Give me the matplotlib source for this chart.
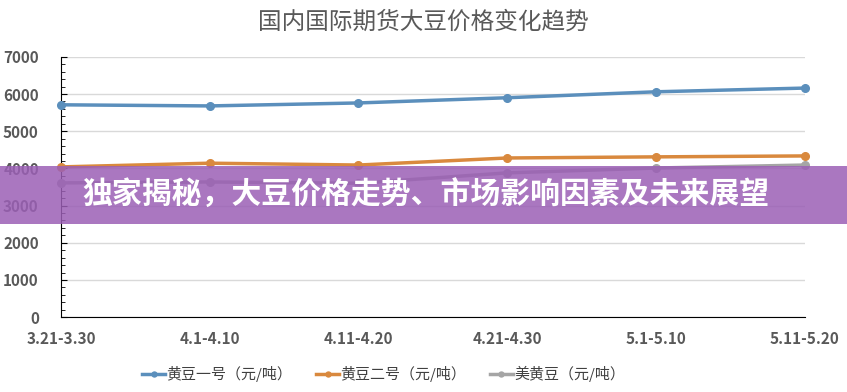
import matplotlib
matplotlib.use("Agg")
import matplotlib.pyplot as plt
from matplotlib.patches import Rectangle
from matplotlib.ticker import MultipleLocator

plt.rcParams['font.family'] = ['Noto Sans CJK SC', 'DejaVu Sans']

periods = ['3.21-3.30', '4.1-4.10', '4.11-4.20', '4.21-4.30', '5.1-5.10', '5.11-5.20']
soy_1 = [5710, 5680, 5760, 5900, 6060, 6160]
soy_2 = [4040, 4140, 4090, 4280, 4310, 4335]
us_soy = [3610, 3635, 3600, 3880, 4010, 4090]
series_names = ['黄豆一号（元/吨）', '黄豆二号（元/吨）', '美黄豆（元/吨）']
colors = ['#5b8fbc', '#d9893e', '#a5a5a5']

fig = plt.figure(figsize=(8.47, 3.92), dpi=100)
ax = fig.add_axes([0.072, 0.191, 0.878, 0.664])

x = range(len(periods))
for vals, name, c in zip([soy_1, soy_2, us_soy], series_names, colors):
    ax.plot(x, vals, color=c, lw=2.5, marker='o', ms=5.5, label=name, clip_on=False, zorder=3)

ax.set_xlim(0, len(periods) - 1)
ax.set_ylim(0, 7000)
ax.yaxis.set_major_locator(MultipleLocator(1000))
ax.yaxis.set_minor_locator(MultipleLocator(200))
ax.grid(axis='y', color='#d9d9d9', lw=1)
ax.set_axisbelow(True)
ax.set_xticks(list(x))
ax.set_xticklabels(periods)
ax.tick_params(axis='x', length=0, pad=10, labelsize=11, labelcolor='#595959')
ax.tick_params(axis='y', which='major', length=4, direction='in', labelsize=11, labelcolor='#595959', pad=16)
ax.tick_params(axis='y', which='minor', length=3, direction='in')
for lab in ax.get_xticklabels() + ax.get_yticklabels():
    lab.set_fontweight('bold')
for s in ['top', 'right']:
    ax.spines[s].set_visible(False)
ax.spines['left'].set_color('black')
ax.spines['bottom'].set_color('black')

fig.text(0.5, 0.944, '国内国际期货大豆价格变化趋势', ha='center', va='center',
         fontsize=17, color='#595959')

fig.legend(loc='center', bbox_to_anchor=(0.453, 0.046), ncol=3, frameon=False,
           fontsize=10.8, handlelength=1.5, handletextpad=0.1, columnspacing=1.6,
           labelcolor='#404040', markerscale=0.65)

# banner overlay
fig.add_artist(Rectangle((0, 1 - 224 / 392), 1, 58 / 392, transform=fig.transFigure,
                         facecolor='#9b5fb5', alpha=0.85, edgecolor='none', zorder=10))
fig.text(0.097, 1 - 195 / 392, '独家揭秘，大豆价格走势、市场影响因素及未来展望',
         ha='left', va='center', fontsize=21.5, fontweight='bold', color='white', zorder=11)

fig.savefig('out.png', dpi=100)
